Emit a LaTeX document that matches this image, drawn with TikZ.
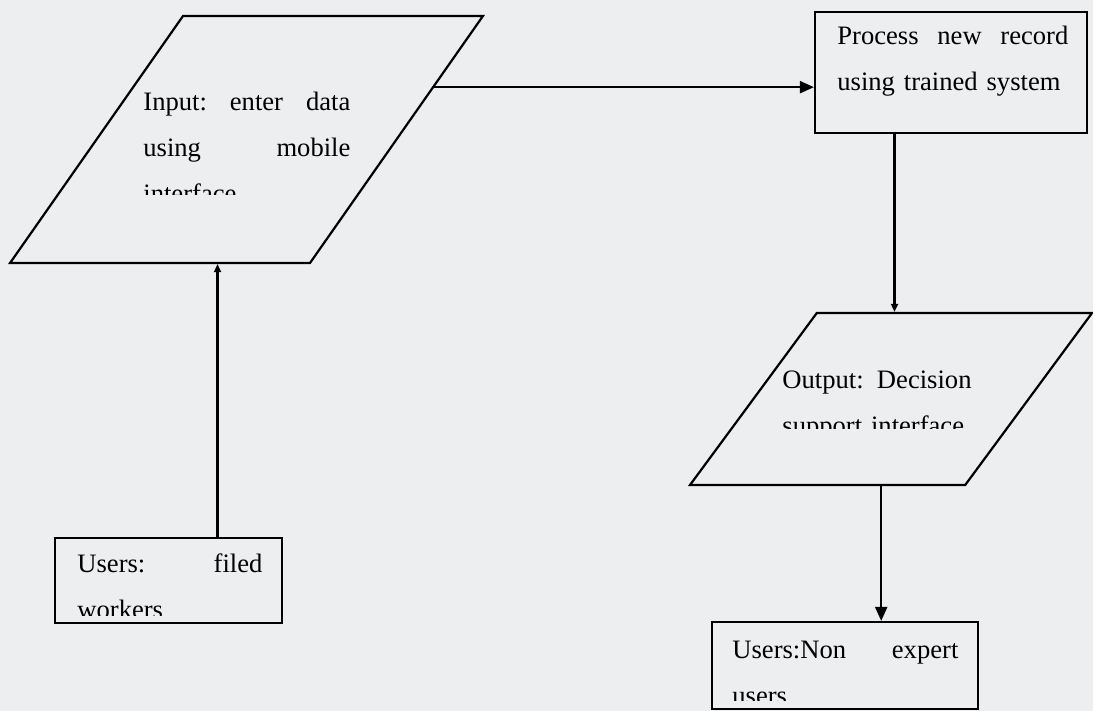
\documentclass[tikz,border=0pt]{standalone}
\usepackage{fontspec}
\setmainfont{Liberation Serif}
\usetikzlibrary{shapes.geometric,arrows.meta,calc}
\definecolor{paper}{RGB}{237,238,239}
\newcommand{\iobody}[2]{\rule{0pt}{#2}\hspace*{#1}}
\tikzset{
  box/.style={draw, line width=1.1pt, rectangle, inner sep=0pt},
  io/.style={draw, line width=1.1pt, trapezium, trapezium left angle=55,
    trapezium right angle=125, inner sep=0pt, font=\fontsize{1}{1}\selectfont},
  txt/.style={inner sep=0pt, anchor=base west, align=left,
    font=\fontsize{13.3}{23}\selectfont},
  flow/.style={line width=1.1pt, -{Triangle[length=7pt,width=6pt]}},
  flowsmall/.style={line width=1.1pt, -{Triangle[length=4pt,width=3.5pt]}}
}
\begin{document}
\begin{tikzpicture}[x=0.5pt, y=-0.5pt]
    \useasboundingbox (0,0) rectangle (1093,711);
    \clip (0,0) rectangle (1093,711);
    \fill[paper] (0,0) rectangle (1093,711);

    % Shapes
    \node[io] (inp) at (246.5,139.5) {\iobody{63.5pt}{123.5pt}};
    \node[box, minimum width=136pt, minimum height=60.5pt] (proc) at (951,72.5) {};
    \node[io, trapezium left angle=53.6, trapezium right angle=126.4] (outp) at (891,399)
      {\iobody{74.2pt}{86pt}};
    \node[box, minimum width=113.5pt, minimum height=42.5pt] (fieldusr) at (168.5,580.5) {};
    \node[box, minimum width=133pt, minimum height=43.5pt] (nonexp) at (845,665.5) {};

    % Texts (last lines cut off by their boxes)
    \begin{scope}
        \clip (0,0) rectangle (1093,195);
        \node[txt, text width=103.5pt] (inptxt) at (143,111)
          {Input:\hfill enter\hfill data\\using\hfill mobile\\interface};
    \end{scope}
    \node[txt, text width=115.5pt] (proctxt) at (837,45)
      {Process\hfill new\hfill record\\using trained system};
    \begin{scope}
        \clip (0,0) rectangle (1093,428);
        \node[txt, text width=100pt] (outptxt) at (782,388)
          {Output: Decision\\support interface};
    \end{scope}
    \begin{scope}
        \clip (0,0) rectangle (1093,615);
        \node[txt, text width=92.5pt] (fieldtxt) at (77,572)
          {Users:\hfill filed\\workers};
    \end{scope}
    \begin{scope}
        \clip (0,0) rectangle (1093,700);
        \node[txt, text width=113pt] (nonexptxt) at (732,658)
          {Users:Non\hfill expert\\users};
    \end{scope}

    % Connectors
    \coordinate (inpout) at ($(inp.top right corner)!0.29!(inp.bottom right corner)$);
    \draw[flow] (inpout) -- (inpout -| proc.west);
    \coordinate (procout) at ($(proc.south west)!0.294!(proc.south east)$);
    \draw[flowsmall] (procout) -- (procout |- outp.north);
    \coordinate (nonexpin) at ($(nonexp.north west)!0.635!(nonexp.north east)$);
    \draw[flow] (nonexpin |- outp.south) -- (nonexpin);
    \coordinate (fieldout) at ($(fieldusr.north west)!0.714!(fieldusr.north east)$);
    \draw[flowsmall] (fieldout) -- (fieldout |- inp.south);
\end{tikzpicture}
\end{document}
